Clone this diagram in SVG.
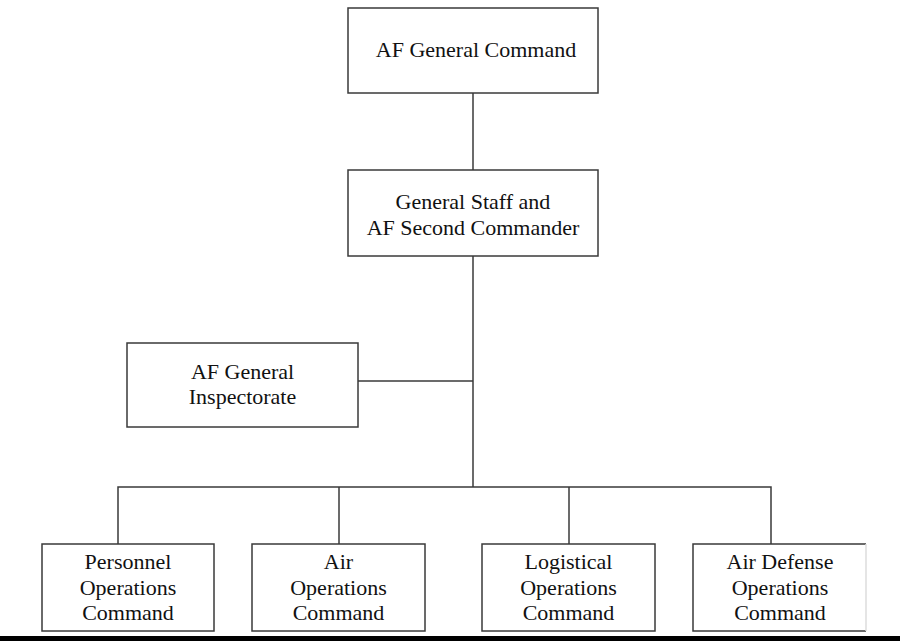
<svg xmlns="http://www.w3.org/2000/svg" width="900" height="641" viewBox="0 0 900 641">
<style>
.box{fill:#fff;stroke:#3a3a3a;stroke-width:1.5}
.t{font-family:"Liberation Serif","Times New Roman",serif;font-size:22px;fill:#111;text-anchor:middle}
.c{fill:none;stroke:#3a3a3a;stroke-width:1.5}
</style>
<rect width="900" height="641" fill="#fff"/>
<g id="connectors">
<line class="c" x1="473" y1="93" x2="473" y2="170"/>
<line class="c" x1="473" y1="256" x2="473" y2="487"/>
<line class="c" x1="358" y1="381" x2="473" y2="381"/>
<polyline class="c" points="118,544 118,487 771,487 771,544"/>
<line class="c" x1="339" y1="487" x2="339" y2="544"/>
<line class="c" x1="569" y1="487" x2="569" y2="544"/>
</g>
<g id="af-general-command">
<rect class="box" x="348" y="8" width="250" height="85"/>
<text class="t" x="476" y="57">AF General Command</text>
</g>
<g id="general-staff">
<rect class="box" x="348" y="170" width="250" height="86"/>
<text class="t" x="473" y="209">General Staff and</text>
<text class="t" x="473" y="235">AF Second Commander</text>
</g>
<g id="inspectorate">
<rect class="box" x="127" y="343" width="231" height="84"/>
<text class="t" x="242.5" y="379">AF General</text>
<text class="t" x="242.5" y="404">Inspectorate</text>
</g>
<g id="personnel">
<rect class="box" x="42" y="544" width="172" height="87"/>
<text class="t" x="128" y="569">Personnel</text>
<text class="t" x="128" y="595">Operations</text>
<text class="t" x="128" y="620">Command</text>
</g>
<g id="air">
<rect class="box" x="252" y="544" width="173" height="87"/>
<text class="t" x="338.5" y="569">Air</text>
<text class="t" x="338.5" y="595">Operations</text>
<text class="t" x="338.5" y="620">Command</text>
</g>
<g id="logistical">
<rect class="box" x="482" y="544" width="173" height="87"/>
<text class="t" x="568.5" y="569">Logistical</text>
<text class="t" x="568.5" y="595">Operations</text>
<text class="t" x="568.5" y="620">Command</text>
</g>
<g id="air-defense">
<path class="box" d="M866,544 H693 V631 H866"/>
<line x1="866" y1="544" x2="866" y2="631" stroke="#ddd" stroke-width="1.5"/>
<text class="t" x="780" y="569">Air Defense</text>
<text class="t" x="780" y="595">Operations</text>
<text class="t" x="780" y="620">Command</text>
</g>
<rect x="0" y="636" width="900" height="5" fill="#000"/>
</svg>
